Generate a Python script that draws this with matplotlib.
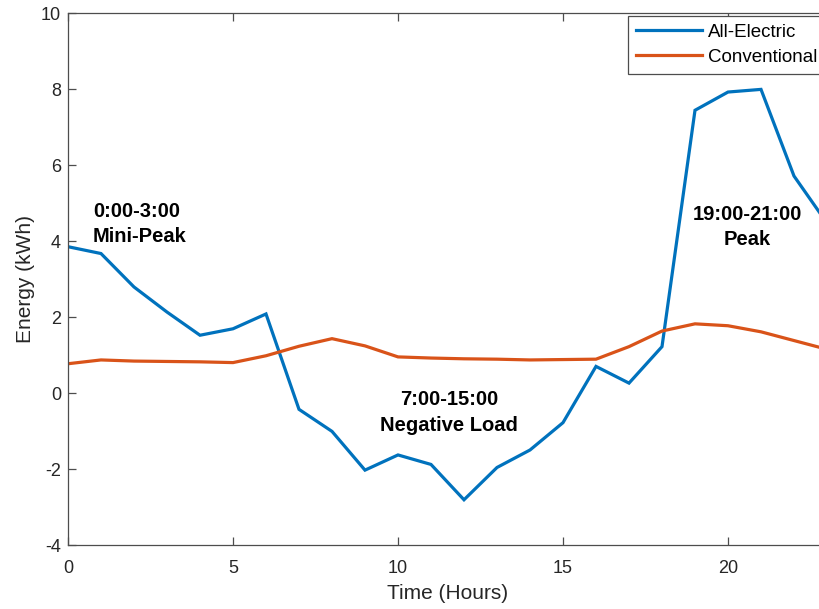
import matplotlib
matplotlib.use("Agg")
import matplotlib.pyplot as plt

plt.rcParams['font.family'] = ['Liberation Sans', 'DejaVu Sans']
plt.rcParams['axes.unicode_minus'] = False

hours = list(range(24))
all_electric = [3.85, 3.67, 2.79, 2.13, 1.52, 1.69, 2.08, -0.43, -1.01, -2.03,
                -1.63, -1.88, -2.81, -1.96, -1.50, -0.78, 0.70, 0.26, 1.22,
                7.44, 7.92, 7.99, 5.71, 4.47]
conventional = [0.77, 0.87, 0.84, 0.83, 0.82, 0.80, 0.98, 1.23, 1.43, 1.24,
                0.95, 0.92, 0.90, 0.89, 0.87, 0.88, 0.89, 1.22, 1.63, 1.82,
                1.77, 1.61, 1.38, 1.15]
series_names = ['All-Electric', 'Conventional']
series_colors = ['#0072BD', '#D95319']

notes = [
    (0.76, 4.45, '0:00-3:00\nMini-Peak', 'left'),
    (11.55, -0.52, '7:00-15:00\nNegative Load', 'center'),
    (20.58, 4.37, '19:00-21:00\nPeak', 'center'),
]

W, H = 819, 609
fig = plt.figure(figsize=(W / 100, H / 100), dpi=100)
ax = fig.add_axes([68 / W, (H - 545) / H, 759 / W, 532 / H])

for vals, name, col in zip([all_electric, conventional], series_names, series_colors):
    ax.plot(hours, vals, color=col, lw=2.3, label=name, solid_joinstyle='miter')

ax.set_xlim(0, 23)
ax.set_ylim(-4, 10)
ax.set_xticks([0, 5, 10, 15, 20])
ax.set_yticks(range(-4, 11, 2))

axcol = '#262626'
for sp in ax.spines.values():
    sp.set_color('#4d4d4d')
    sp.set_linewidth(0.9)
ax.tick_params(direction='in', length=5.5, width=0.9, color='#4d4d4d',
               labelcolor=axcol, top=True, right=True, labelsize=13)
ax.tick_params(axis='x', pad=11)
ax.tick_params(axis='y', pad=5)
ax.set_xlabel('Time (Hours)', fontsize=15, color=axcol, labelpad=5)
ax.set_ylabel('Energy (kWh)', fontsize=15, color=axcol, labelpad=4)

for x, y, s, ha in notes:
    ax.text(x, y, s, ha=ha, va='center', multialignment='center' if ha == 'center' else 'left',
            fontsize=14.5, fontweight='bold', linespacing=1.45)

leg = ax.legend(loc='upper left', bbox_to_anchor=(628 / W, 1 - 16 / H),
                bbox_transform=fig.transFigure, fontsize=13.5, frameon=True,
                fancybox=False, framealpha=1, edgecolor='#4d4d4d',
                handlelength=3.55, handletextpad=0.3, borderpad=0.42,
                labelspacing=0.42, borderaxespad=0)
leg.get_frame().set_linewidth(0.9)

fig.savefig('out.png', dpi=100)
